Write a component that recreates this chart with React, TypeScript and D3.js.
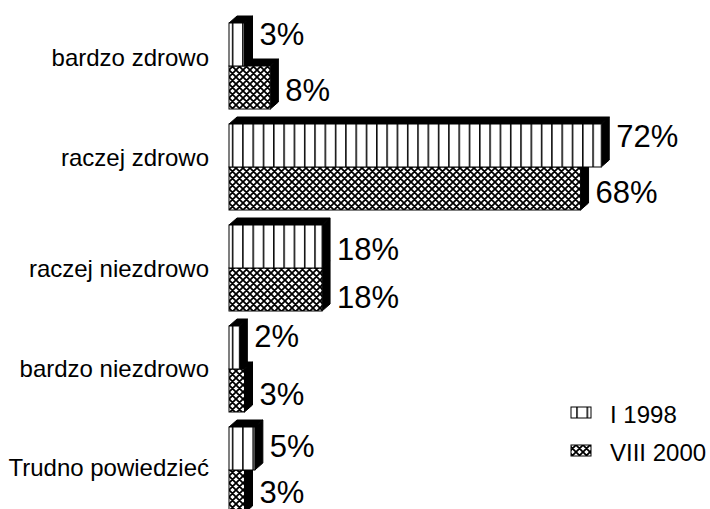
import * as d3 from "d3";

const categories = ["bardzo zdrowo", "raczej zdrowo", "raczej niezdrowo", "bardzo niezdrowo", "Trudno powiedzieć"];
const seriesNames = ["I 1998", "VIII 2000"];
const values1998 = [3, 72, 18, 2, 5];
const values2000 = [8, 68, 18, 3, 3];

const W = 710, H = 509;
const DX = 8, DY = 7;
const FONT = "Arial, 'Liberation Sans', sans-serif";

// small vertical nudges so labels sit where the original placed them
const catLabelNudge = [-8, -9, 1, 0, -2];
const valueLabelNudge = [[-10, -9, 3, -11, -2], [3, 4, 8, 4, 1]];

export default function App() {
    const x = d3.scaleLinear().domain([0, 100]).range([229, 229 + 517]);
    const y = d3.scaleBand().domain(categories).range([15.5, 520.5])
        .paddingInner(15 / 101).paddingOuter(7.5 / 101);
    const ys = d3.scaleBand().domain(seriesNames).range([0, y.bandwidth()]);
    const fills = ["url(#vlines)", "url(#cross)"];
    const seriesVals = [values1998, values2000];

    const bar = (cat: string, si: number) => {
        const ci = categories.indexOf(cat);
        const v = seriesVals[si][ci];
        const x0 = x(0), x1 = x(v);
        const yt = (y(cat) as number) + (ys(seriesNames[si]) as number);
        const yb = yt + ys.bandwidth();
        const top = `M${x0},${yt}L${x0 + DX},${yt - DY}L${x1 + DX},${yt - DY}L${x1},${yt}Z`;
        const side = `M${x1},${yt}L${x1 + DX},${yt - DY}L${x1 + DX},${yb - DY}L${x1},${yb}Z`;
        return (
            <g key={cat + si}>
                <path d={top} fill="#000" stroke="#000" strokeWidth={1} />
                <path d={side} fill="#000" stroke="#000" strokeWidth={1} />
                <rect x={x0} y={yt} width={x1 - x0} height={yb - yt} fill="#fff" />
                <rect x={x0} y={yt} width={x1 - x0} height={yb - yt} fill={fills[si]} stroke="#000" strokeWidth={1} />
                <text x={x1 + DX + 7} y={(yt + yb) / 2 + valueLabelNudge[si][ci]} dy="0.35em"
                      fontSize={31} fontFamily={FONT}>{v}%</text>
            </g>
        );
    };

    return (
        <svg width={W} height={H} style={{position: "absolute", left: 0, top: 0, background: "#fff"}}>
            <defs>
                <pattern id="vlines" patternUnits="userSpaceOnUse" x={229} y={0} width={10.3} height={10}>
                    <rect width={10.3} height={10} fill="#fff" />
                    <line x1={3.6} x2={3.6} y1={0} y2={10} stroke="#000" strokeWidth={1.5} />
                </pattern>
                <pattern id="cross" patternUnits="userSpaceOnUse" x={229} y={0} width={7} height={7}>
                    <rect width={7} height={7} fill="#fff" />
                    <path d="M0,0L7,7M7,0L0,7M-1,6L1,8M6,-1L8,1M-1,1L1,-1M6,8L8,6" stroke="#000" strokeWidth={1.8} />
                </pattern>
            </defs>
            {categories.map((c, i) => (
                <text key={c} x={209} y={(y(c) as number) + y.bandwidth() / 2 + catLabelNudge[i]} dy="0.35em"
                      textAnchor="end" fontSize={24} fontFamily={FONT}>{c}</text>
            ))}
            {/* lower bars first so the upper bar covers their top faces */}
            {categories.map(c => bar(c, 1))}
            {categories.map(c => bar(c, 0))}
            {seriesNames.map((s, i) => (
                <g key={s} transform={`translate(571,${407 + i * 38})`}>
                    <rect width={20} height={11} fill={fills[i]} stroke="#000" strokeWidth={1} />
                    <text x={39} y={16} fontSize={24} fontFamily={FONT}>{s}</text>
                </g>
            ))}
        </svg>
    );
}
